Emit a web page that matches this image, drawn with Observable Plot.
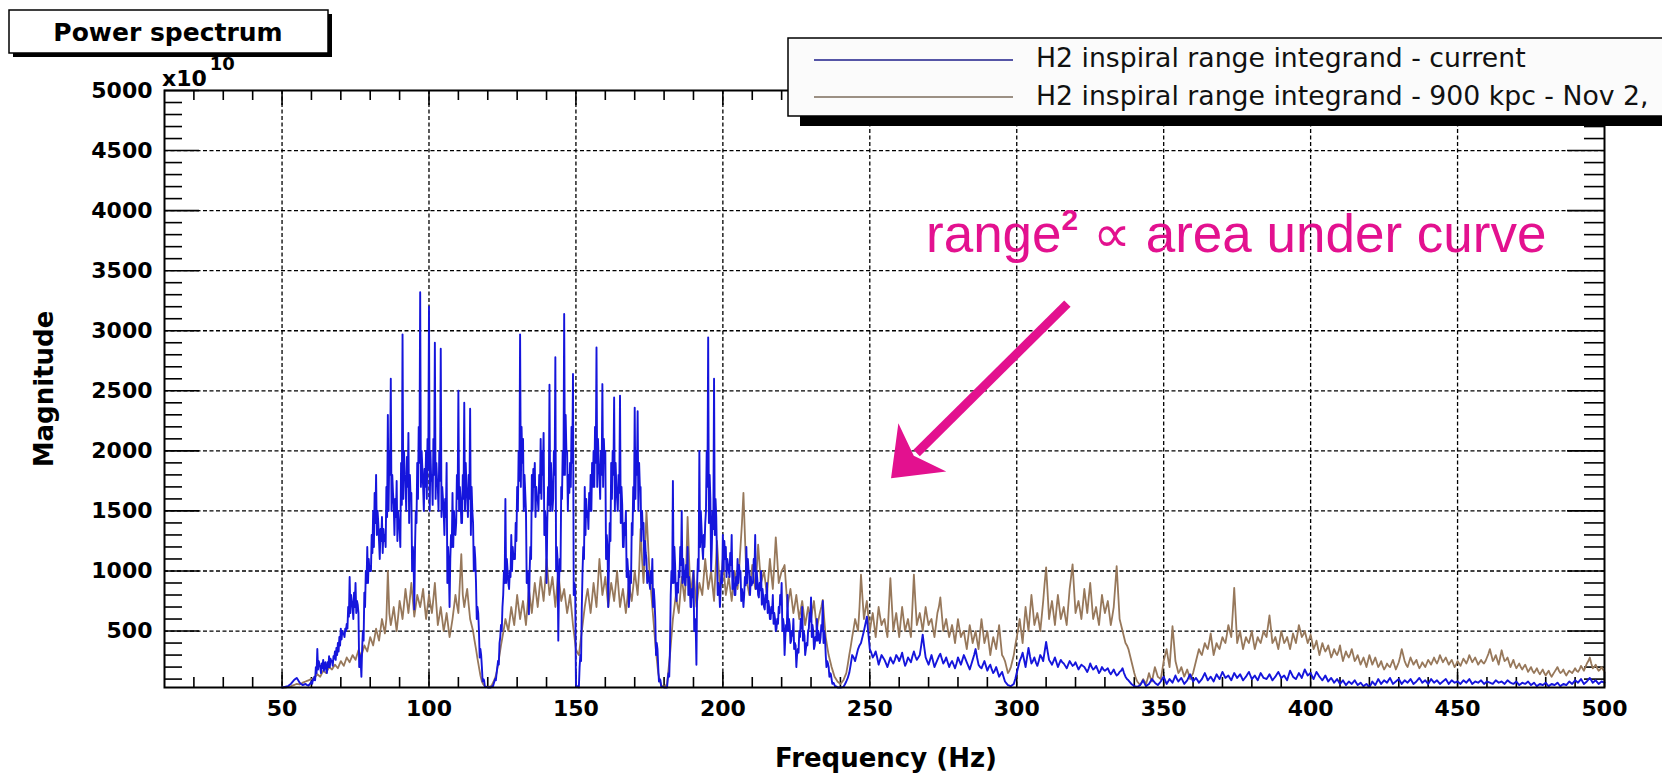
<!DOCTYPE html>
<html><head><meta charset="utf-8">
<script src="https://cdn.jsdelivr.net/npm/d3@7"></script>
<script src="https://cdn.jsdelivr.net/npm/@observablehq/plot@0.6"></script>
<style>
html,body{margin:0;padding:0;background:#fff;overflow:hidden;}
#chart{position:relative;width:1662px;height:782px;}
</style></head><body><div id="chart"></div>
<script>
// ---- data: values at whole Hz (50..500), half-Hz points (50.5..499.5),
//      and for the dense blue band 60..240 Hz also the quarter-Hz points ----
const freqStartHz = 50, freqEndHz = 500;
const blueCurrent = [
30,35,40,60,90,110,70,50,60,45,
80,120,350,200,260,180,290,250,330,400,
520,480,560,950,700,900,650,120,820,1200,
1000,1500,1800,1250,1450,1300,2300,2600,1550,1750,
1350,2970,1750,2150,1650,680,1900,3320,1700,2000,
3200,1800,2900,1700,2850,1500,1900,700,1650,1300,
2500,1400,2400,1600,2350,1400,900,500,200,40,
30,30,60,150,400,700,1600,900,1300,1100,
1700,2970,2100,1500,640,1800,1900,1600,2100,2150,
900,2550,1500,2780,420,1700,3139,2000,1900,2640,
60,30,700,1700,1500,1800,2000,2860,1800,2556,
2000,700,1900,2445,1600,2460,1200,1500,700,1400,
2360,2330,1700,1400,1100,900,1100,600,200,40,
30,30,350,1750,800,1000,1500,900,1200,700,
1000,220,2000,1200,1400,2945,1000,2600,1100,700,
1300,1200,1000,1300,800,1100,1000,700,1200,1000,
900,1300,800,1000,700,900,600,800,500,700,
900,300,800,400,600,200,500,700,300,500,
780,350,600,400,750,300,200,100,50,30,
30,35,80,150,300,250,350,400,500,620,
350,280,330,220,300,260,200,280,230,300,
250,320,210,280,240,330,260,300,470,280,
220,300,200,260,310,230,280,200,250,190,
280,220,300,240,180,260,350,220,190,250,
170,220,150,200,120,160,80,50,40,60,
150,250,320,200,360,230,280,210,300,250,
410,260,220,280,200,260,230,190,250,210,
240,180,220,200,160,230,180,210,150,200,
170,190,140,180,130,160,190,120,90,60,
40,35,50,90,40,60,100,70,50,80,
120,60,100,70,130,80,110,60,90,140,
80,110,70,100,150,90,120,80,140,100,
160,110,130,90,150,110,140,90,120,160,
100,130,90,150,110,100,140,90,120,160,
110,130,90,170,120,100,150,110,180,130,
150,100,160,120,90,130,80,110,70,100,
60,90,50,80,60,90,50,70,40,60,
35,80,50,100,60,90,70,110,60,80,
100,60,90,70,100,60,80,110,70,90,
60,100,70,90,60,80,100,60,90,70,
80,60,90,70,100,60,80,70,90,60,
80,70,60,90,70,80,60,90,70,60,
80,50,70,60,80,50,70,40,60,50,
70,40,60,50,70,40,60,50,80,60,
90,70,100,60,80,110,70,90,60,80,
70];
const blueCurrentHalf = [
32,38,50,75,100,90,60,55,50,60,
100,200,250,230,220,240,270,290,360,450,
500,520,700,800,820,750,300,500,1000,1100,
1300,1650,1500,1350,1350,1700,2000,1800,1600,1500,
1900,2000,1950,1800,1200,1500,2200,2000,1850,2100,
2000,2100,1900,2000,1700,1600,1200,1300,1500,1800,
1700,1800,1900,1800,1700,1200,700,350,100,35,
30,40,100,250,550,1000,1100,1000,1200,1400,
2000,2200,1800,1000,1200,1850,1700,1800,2000,1500,
1700,1900,2000,1200,1100,2000,2300,1800,2200,900,
40,300,1200,1600,1650,1900,2200,2100,2000,2100,
1300,1400,2000,1900,1800,1700,1400,1100,1000,1700,
2000,1900,1500,1250,1000,1000,850,400,100,35,
30,150,1000,1200,900,1200,1100,1050,950,850,
600,1100,1500,1300,2000,1800,1500,1600,900,1000,
1250,1100,1150,1000,950,1050,850,950,1100,950,
1100,1000,900,850,800,750,700,650,600,800,
600,550,600,500,400,350,600,500,400,650,
550,450,500,550,500,250,150,70,40,30,
32,55,110,220,280,300,380,450,560,480,
320,300,280,260,280,230,240,250,260,280,
280,260,240,260,290,290,280,380,370,250,
260,250,230,290,270,250,240,230,220,230,
250,260,270,210,220,300,280,200,220,210,
200,180,170,160,140,120,65,45,50,100,
200,280,260,280,290,250,240,250,280,330,
330,240,250,240,230,240,210,220,230,220,
210,200,210,180,190,200,190,180,170,180,
180,160,160,150,140,170,150,100,75,50,
38,42,70,65,50,80,85,60,65,100,
90,80,85,100,100,95,85,75,115,110,
95,90,85,125,120,105,100,110,120,130,
135,120,110,120,130,125,115,105,140,130,
115,110,120,130,105,120,115,105,140,135,
120,110,130,145,110,125,130,145,155,140,
125,130,140,105,110,105,95,90,85,80,
75,70,65,70,75,70,60,55,50,45,
55,65,75,80,75,80,90,85,70,90,
80,75,80,85,80,70,95,90,80,75,
80,85,80,75,70,90,80,75,80,75,
70,75,80,85,80,70,75,80,75,70,
75,65,75,80,75,70,75,80,65,70,
65,60,65,70,65,60,55,50,55,60,
55,50,55,60,55,50,55,65,70,75,
80,85,80,70,95,90,80,75,70,75];
// dense band 60..239 Hz: values at f+0.25 and f+0.75
const blueQuarterStartHz = 60;
const blueCurrentQ1 = [
60,90,180,150,170,150,200,210,260,330,
430,450,520,650,600,650,200,350,700,900,
1000,1200,1300,1100,1150,1200,1500,1500,1300,1250,
1200,1600,1500,1400,1000,1200,1600,1700,1500,1600,
1500,1550,1600,1500,1450,1300,900,1100,1200,1400,
1500,1400,1500,1450,1300,1000,600,280,80,32,
30,35,80,200,450,800,900,850,1000,1100,
1500,1700,1500,900,1000,1500,1450,1500,1600,1300,
1400,1500,1600,1000,900,1600,1800,1500,1700,800,
35,200,1000,1300,1350,1500,1700,1700,1600,1700,
1100,1100,1600,1500,1500,1400,1200,950,800,1300,
1600,1500,1250,1050,900,850,700,300,80,32,
30,100,800,900,750,950,900,880,800,700,
500,900,1200,1100,1500,1400,1200,1300,800,850,
1000,950,950,850,800,900,750,800,900,800,
900,850,780,720,680,650,600,560,520,650,
500,450,500,420,350,300,450,420,350,520,
450,380,420,450,400,200,120,60,35,30];
const blueCurrentQ3 = [
90,150,220,190,240,200,250,270,300,380,
480,500,620,750,700,720,250,420,900,1000,
1150,1400,1400,1250,1250,1450,1800,1650,1450,1400,
1550,1800,1700,1600,1100,1400,1900,1850,1700,1850,
1750,1800,1750,1750,1600,1450,1050,1200,1350,1600,
1600,1600,1700,1600,1500,1100,650,300,90,33,
30,38,90,220,500,900,1000,950,1100,1250,
1750,1900,1650,950,1100,1700,1600,1650,1800,1400,
1550,1700,1800,1100,1000,1800,2000,1650,1900,850,
38,250,1100,1450,1500,1700,1900,1900,1800,1900,
1200,1250,1800,1700,1650,1550,1300,1000,900,1500,
1800,1700,1350,1150,950,900,750,350,90,33,
30,120,900,1050,820,1050,1000,950,880,780,
550,1000,1350,1200,1700,1600,1350,1450,850,900,
1100,1050,1050,900,880,980,800,880,1000,880,
1000,920,840,780,740,700,650,600,560,720,
550,500,550,460,380,320,520,460,380,580,
500,420,460,500,450,230,140,65,38,30];
const brown900kpc = [
30,30,35,40,50,60,55,70,80,90,
100,110,140,120,170,150,200,180,220,190,
250,210,280,240,300,260,340,290,380,330,
450,380,520,420,600,480,1000,550,700,500,
750,600,850,650,900,620,800,700,850,600,
800,650,900,550,700,500,650,450,600,800,
650,1140,700,850,600,500,350,200,80,40,
35,40,80,150,300,450,600,500,700,550,
800,600,750,550,850,650,900,700,950,750,
1100,800,950,700,1000,750,850,650,800,550,
350,300,500,700,850,650,900,700,1100,800,
950,700,900,750,1000,700,850,650,900,750,
1000,800,1350,900,1500,1000,700,400,150,50,
35,60,300,600,800,650,950,750,1450,800,
1000,700,900,800,1100,850,1000,750,1250,850,
1100,800,950,750,1000,850,1200,1650,950,800,
1050,850,1220,900,1000,800,1100,850,1280,900,
1000,1050,700,850,650,800,600,750,550,700,
600,750,520,650,760,450,300,200,120,80,
60,90,150,300,450,600,500,970,600,750,
500,650,450,700,550,600,450,940,500,650,
450,700,500,600,450,970,550,650,500,700,
550,600,450,650,780,500,600,450,550,400,
600,450,500,350,550,400,500,350,600,400,
500,300,450,350,550,300,250,150,200,300,
450,600,400,700,500,800,550,650,500,750,
1030,600,750,550,800,600,700,550,850,1055,
650,750,600,850,650,900,600,700,550,800,
650,750,550,700,1040,600,500,400,350,250,
150,80,50,100,60,150,80,200,120,100,
250,350,200,540,250,150,200,120,180,100,
150,250,350,300,400,350,480,300,400,350,
450,400,550,450,860,400,500,350,450,400,
500,350,450,400,500,450,630,400,450,350,
500,400,450,350,480,400,550,450,500,400,
470,350,420,300,400,330,380,280,350,300,
380,250,330,280,350,250,300,220,280,200,
300,220,280,200,250,180,230,200,260,180,
240,350,250,200,280,220,260,190,240,200,
260,220,280,230,300,240,280,220,260,200,
250,210,270,230,300,240,280,220,260,230,
280,350,250,300,220,340,250,280,200,260,
190,230,180,220,160,200,150,190,140,180,
130,170,120,160,200,150,180,130,170,150,
190,160,210,170,230,280,190,220,170,200,
160];
const brown900kpcHalf = [
30,32,38,45,55,58,62,75,85,95,
105,125,130,145,160,175,190,200,205,220,
230,245,260,270,280,300,315,335,355,390,
415,450,470,510,540,600,650,620,600,620,
680,720,750,770,760,710,750,770,720,700,
720,770,720,620,600,570,550,520,700,720,
900,800,780,720,550,420,270,130,55,38,
38,55,110,220,380,520,550,600,620,670,
700,680,650,700,750,780,800,830,850,900,
950,870,830,850,870,800,750,720,680,450,
320,400,600,780,750,770,800,900,950,870,
830,800,830,870,850,780,750,770,820,870,
900,1000,1100,1150,1250,850,550,270,90,40,
45,180,450,700,720,800,850,1000,1100,900,
850,800,850,950,970,920,870,1000,1050,950,
950,870,850,870,920,1000,1400,1300,870,920,
950,1000,1050,950,900,950,970,1050,1100,950,
1020,870,780,750,720,700,680,650,620,650,
680,630,590,700,600,370,250,160,100,70,
75,120,220,370,520,550,700,780,680,620,
580,550,580,620,580,520,700,720,580,550,
580,600,550,520,700,750,600,580,600,620,
580,520,550,700,640,550,520,500,480,500,
520,480,420,450,480,450,420,480,500,450,
400,380,400,450,420,280,200,170,250,380,
520,500,550,600,650,680,600,580,620,900,
820,680,650,680,700,650,620,700,950,850,
700,680,720,750,780,750,650,620,680,720,
700,650,620,870,820,550,450,380,300,200,
110,65,75,80,100,110,140,160,110,170,
300,270,370,400,200,170,160,150,140,125,
200,300,320,350,370,410,390,350,370,400,
420,470,500,650,630,450,420,400,420,450,
420,400,420,450,470,540,520,420,400,420,
450,420,400,410,440,470,500,470,450,430,
410,380,360,350,360,350,330,310,320,330,
310,290,300,310,300,270,260,250,240,250,
260,250,240,220,210,200,210,230,220,210,
290,300,220,240,250,240,220,210,220,230,
240,250,250,260,270,260,250,240,230,220,
230,240,250,260,270,260,250,240,240,250,
310,300,270,260,280,290,260,240,230,220,
210,200,200,190,180,170,170,160,160,150,
150,140,140,180,170,160,150,150,160,170,
170,180,190,200,250,230,200,190,180,180];
const xTickLabels = [50,100,150,200,250,300,350,400,450,500];
const yTickLabels = [500,1000,1500,2000,2500,3000,3500,4000,4500,5000];
const seriesNames = ["H2 inspiral range integrand - current", "H2 inspiral range integrand - 900 kpc - Nov 2,"];
const seriesColors = ["#1515dc", "#97785b"];
const legendSwatchColors = ["#1e1e8a", "#7d6c5c"];
const titleText = "Power spectrum";
const xTitle = "Frequency (Hz)";
const yTitle = "Magnitude";
const noteText = ["range", "2", " \u221D area under curve"];

// ---- derived ----
function merge(whole, half, q1, q3, qStart) {
  const out = [];
  whole.forEach((v, i) => {
    const f = freqStartHz + i;
    out.push({f, v});
    const k = f - qStart;
    const hasQ = q1 && k >= 0 && k < q1.length;
    if (hasQ) out.push({f: f + 0.25, v: q1[k]});
    if (i < half.length) out.push({f: f + 0.5, v: half[i]});
    if (hasQ) out.push({f: f + 0.75, v: q3[k]});
  });
  return out;
}
const blueRows = merge(blueCurrent, blueCurrentHalf, blueCurrentQ1, blueCurrentQ3, blueQuarterStartHz);
const brownRows = merge(brown900kpc, brown900kpcHalf);
const xMinor = d3.range(20, 500, 10).filter(d => d % 50 !== 0);
const yMinor = d3.range(100, 5000, 100).filter(d => d % 500 !== 0);
const xGrid = xTickLabels.filter(d => d < 500);
const yGrid = yTickLabels.filter(d => d < 5000);

const W = 1662, H = 782, mL = 164, mR = 58, mT = 90, mB = 95;
const plotW = W - mL - mR, plotH = H - mT - mB;
const FONT = "'DejaVu Sans', sans-serif";
const dash = "4,2.5";

const plot = Plot.plot({
  width: W, height: H, marginLeft: mL, marginRight: mR, marginTop: mT, marginBottom: mB,
  style: {fontFamily: FONT, background: "transparent", color: "#000"},
  x: {domain: [10, 500]},
  y: {domain: [30, 5000]},
  marks: [
    Plot.ruleX(xGrid, {x: d => d, stroke: "#000", strokeWidth: 1.3, strokeDasharray: dash}),
    Plot.ruleY(yGrid, {y: d => d, stroke: "#000", strokeWidth: 1.3, strokeDasharray: dash}),
    Plot.tickY(yMinor, {y: d => d, insetRight: plotW - 18, stroke: "#000", strokeWidth: 1.6}),
    Plot.tickY(yTickLabels, {y: d => d, insetRight: plotW - 35, stroke: "#000", strokeWidth: 1.6}),
    Plot.tickY(yMinor, {y: d => d, insetLeft: plotW - 20, stroke: "#000", strokeWidth: 1.6}),
    Plot.tickY(yTickLabels, {y: d => d, insetLeft: plotW - 37, stroke: "#000", strokeWidth: 1.6}),
    Plot.tickX(xMinor, {x: d => d, insetTop: plotH - 10, stroke: "#000", strokeWidth: 1.6}),
    Plot.tickX(xTickLabels, {x: d => d, insetTop: plotH - 15, stroke: "#000", strokeWidth: 1.6}),
    Plot.tickX(xMinor, {x: d => d, insetBottom: plotH - 10, stroke: "#000", strokeWidth: 1.6}),
    Plot.tickX(xTickLabels, {x: d => d, insetBottom: plotH - 15, stroke: "#000", strokeWidth: 1.6}),
    Plot.line(brownRows, {x: "f", y: "v", stroke: seriesColors[1], strokeWidth: 1.8}),
    Plot.line(blueRows, {x: "f", y: "v", stroke: seriesColors[0], strokeWidth: 1.9}),
    Plot.frame({stroke: "#000", strokeWidth: 2}),
    Plot.axisY(yTickLabels, {tickSize: 0, tickPadding: 12, tickFormat: d => String(d), fontSize: 22, fontWeight: "bold", label: null}),
    Plot.axisX(xTickLabels, {tickSize: 0, tickPadding: 13, tickFormat: d => String(d), fontSize: 22, fontWeight: "bold", label: null})
  ]
});
document.getElementById("chart").appendChild(plot);

const svg = d3.select(plot);
const xs = plot.scale("x"), ys = plot.scale("y");

svg.append("text").attr("transform", "translate(53,389) rotate(-90)")
  .attr("text-anchor", "middle").attr("font-family", FONT).attr("font-weight", "bold")
  .attr("font-size", 26).attr("fill", "#000").text(yTitle);
svg.append("text").attr("x", 886).attr("y", 767)
  .attr("text-anchor", "middle").attr("font-family", FONT).attr("font-weight", "bold")
  .attr("font-size", 26).attr("fill", "#000").text(xTitle);

const ex = svg.append("text").attr("x", 162).attr("y", 86).attr("text-anchor", "start")
  .attr("font-family", FONT).attr("font-weight", "bold").attr("font-size", 22).attr("fill", "#000");
ex.append("tspan").text("x10");
ex.append("tspan").attr("dy", -16).attr("dx", 3).attr("font-size", 18).text("10");

svg.append("rect").attr("x", 13).attr("y", 14).attr("width", 319).attr("height", 43).attr("fill", "#000");
svg.append("rect").attr("x", 9).attr("y", 10).attr("width", 319).attr("height", 43)
  .attr("fill", "#fff").attr("stroke", "#000").attr("stroke-width", 1.5);
svg.append("text").attr("x", 168).attr("y", 41).attr("text-anchor", "middle")
  .attr("font-family", FONT).attr("font-weight", "bold").attr("font-size", 25).attr("fill", "#000").text(titleText);

svg.append("rect").attr("x", 800).attr("y", 48).attr("width", 1000).attr("height", 78).attr("fill", "#000");
svg.append("rect").attr("x", 788).attr("y", 38).attr("width", 1000).attr("height", 78)
  .attr("fill", "#fbfbfb").attr("stroke", "#000").attr("stroke-width", 1.5);
const legY = [60, 97], legBase = [67, 105];
seriesNames.forEach((name, i) => {
  svg.append("line").attr("x1", 814).attr("x2", 1013).attr("y1", legY[i]).attr("y2", legY[i])
    .attr("stroke", legendSwatchColors[i]).attr("stroke-width", 1.6);
  svg.append("text").attr("x", 1036).attr("y", legBase[i]).attr("text-anchor", "start")
    .attr("font-family", FONT).attr("font-size", 26.7).attr("fill", "#111").text(name);
});

const noteColor = "#e3118f";
const nt = svg.append("text").attr("x", xs.apply(269.3)).attr("y", ys.apply(3650)).attr("text-anchor", "start")
  .attr("font-family", "'Liberation Sans', Arial, sans-serif").attr("font-size", 53).attr("fill", noteColor);
nt.append("tspan").text(noteText[0]);
nt.append("tspan").attr("dy", -22).attr("font-size", 30).attr("font-weight", "bold").text(noteText[1]);
nt.append("tspan").attr("dy", 22).text(noteText[2]);

const sx = xs.apply(317.4), sy = ys.apply(3222);
const tx = xs.apply(257.4), ty = ys.apply(1767);
const len = Math.hypot(sx - tx, sy - ty);
const ux = (sx - tx) / len, uy = (sy - ty) / len;
const px = -uy, py = ux;
const L = 44, Wd = 34, N = 32;
const nx = tx + ux * N, ny = ty + uy * N;
svg.append("line").attr("x1", sx).attr("y1", sy).attr("x2", nx + ux * 4).attr("y2", ny + uy * 4)
  .attr("stroke", noteColor).attr("stroke-width", 9);
svg.append("polygon").attr("fill", noteColor).attr("points", [
  [tx, ty],
  [tx + ux * L + px * Wd, ty + uy * L + py * Wd],
  [nx, ny],
  [tx + ux * L - px * Wd, ty + uy * L - py * Wd]
].map(p => p.join(",")).join(" "));
</script>
</body></html>
